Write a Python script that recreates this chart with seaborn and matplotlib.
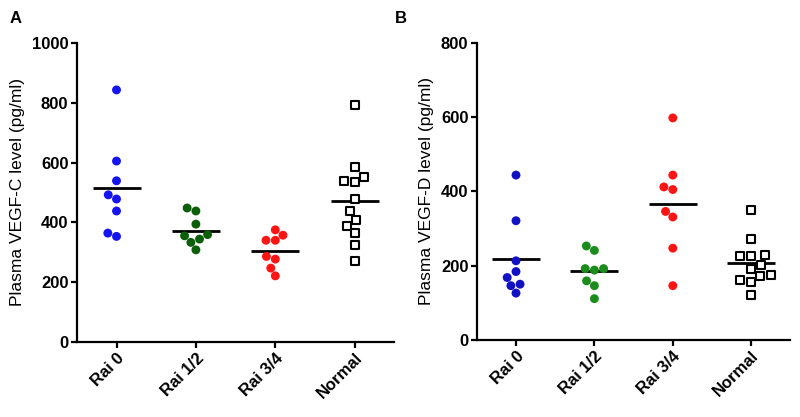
import pandas as pd
import numpy as np
import matplotlib
matplotlib.use('Agg')
import matplotlib.pyplot as plt
import seaborn as sns

groups = ['Rai 0', 'Rai 1/2', 'Rai 3/4', 'Normal']

# Panel A - VEGF-C (pg/ml)
vegfc_rai0 = [843, 605, 539, 492, 478, 438, 353, 364]
vegfc_rai12 = [438, 448, 394, 359, 344, 355, 333, 308]
vegfc_rai34 = [357, 340, 340, 375, 286, 277, 247, 221]
vegfc_normal = [791, 584, 552, 534, 537, 479, 438, 409, 389, 364, 323, 272]

# Panel B - VEGF-D (pg/ml)
vegfd_rai0 = [444, 321, 213, 184, 168, 150, 146, 126]
vegfd_rai12 = [253, 241, 192, 188, 192, 159, 146, 111]
vegfd_rai34 = [598, 444, 412, 405, 346, 331, 247, 146]
vegfd_normal = [349, 273, 227, 225, 229, 202, 175, 191, 171, 160, 155, 120]

colors_a = ['#1414f0', '#0b5f0b', '#ff1414']
colors_b = ['#1212c4', '#1c8c1c', '#ff1414']


def make_df(rai0, rai12, rai34, normal):
    rows = []
    for g, vals in zip(groups, [rai0, rai12, rai34, normal]):
        for v in vals:
            rows.append((g, v))
    return pd.DataFrame(rows, columns=['group', 'level'])


df_c = make_df(vegfc_rai0, vegfc_rai12, vegfc_rai34, vegfc_normal)
df_d = make_df(vegfd_rai0, vegfd_rai12, vegfd_rai34, vegfd_normal)

sns.set_style('ticks')
plt.rcParams['font.family'] = ['Liberation Sans', 'DejaVu Sans']
plt.rcParams['text.color'] = 'black'
plt.rcParams['axes.labelcolor'] = 'black'
plt.rcParams['axes.edgecolor'] = 'black'
plt.rcParams['xtick.color'] = 'black'
plt.rcParams['ytick.color'] = 'black'

fig = plt.figure(figsize=(8, 4.17), dpi=100)
ax_a = fig.add_axes([0.096, 0.18, 0.397, 0.717])
ax_b = fig.add_axes([0.596, 0.185, 0.392, 0.712])


def draw(ax, df, palette, ymax, step, ylabel):
    circles = df[df['group'] != 'Normal']
    sns.swarmplot(data=circles, x='group', y='level', hue='group',
                  order=groups, hue_order=groups[:3], palette=palette,
                  size=6.4, linewidth=0, legend=False, ax=ax)
    sns.swarmplot(data=df[df['group'] == 'Normal'], x='group', y='level',
                  order=groups, marker='s', color='white', edgecolor='black',
                  linewidth=1.5, size=6.1, ax=ax)
    sns.pointplot(data=df, x='group', y='level', order=groups,
                  estimator='mean', errorbar=None, linestyle='none',
                  marker='_', markersize=35, markeredgewidth=2,
                  color='black', ax=ax)
    ax.set_xlim(-0.5, 3.5)
    ax.set_ylim(0, ymax)
    ax.set_yticks(np.arange(0, ymax + 1, step))
    ax.set_xlabel('')
    ax.set_ylabel(ylabel, fontsize=12.5, labelpad=5)
    sns.despine(ax=ax)
    for s in ['left', 'bottom']:
        ax.spines[s].set_linewidth(1.6)
    ax.tick_params(width=1.6, length=4, labelsize=12, pad=2)
    for lab in ax.get_yticklabels():
        lab.set_fontweight('bold')
    for lab in ax.get_xticklabels():
        lab.set_fontweight('bold')
        lab.set_rotation(45)
        lab.set_ha('right')
        lab.set_rotation_mode('anchor')


draw(ax_a, df_c, colors_a, 1000, 200, 'Plasma VEGF-C level (pg/ml)')
draw(ax_b, df_d, colors_b, 800, 200, 'Plasma VEGF-D level (pg/ml)')

fig.text(0.012, 0.945, 'A', fontsize=12, fontweight='bold')
fig.text(0.493, 0.945, 'B', fontsize=12, fontweight='bold')

fig.savefig('out.png', dpi=100)
